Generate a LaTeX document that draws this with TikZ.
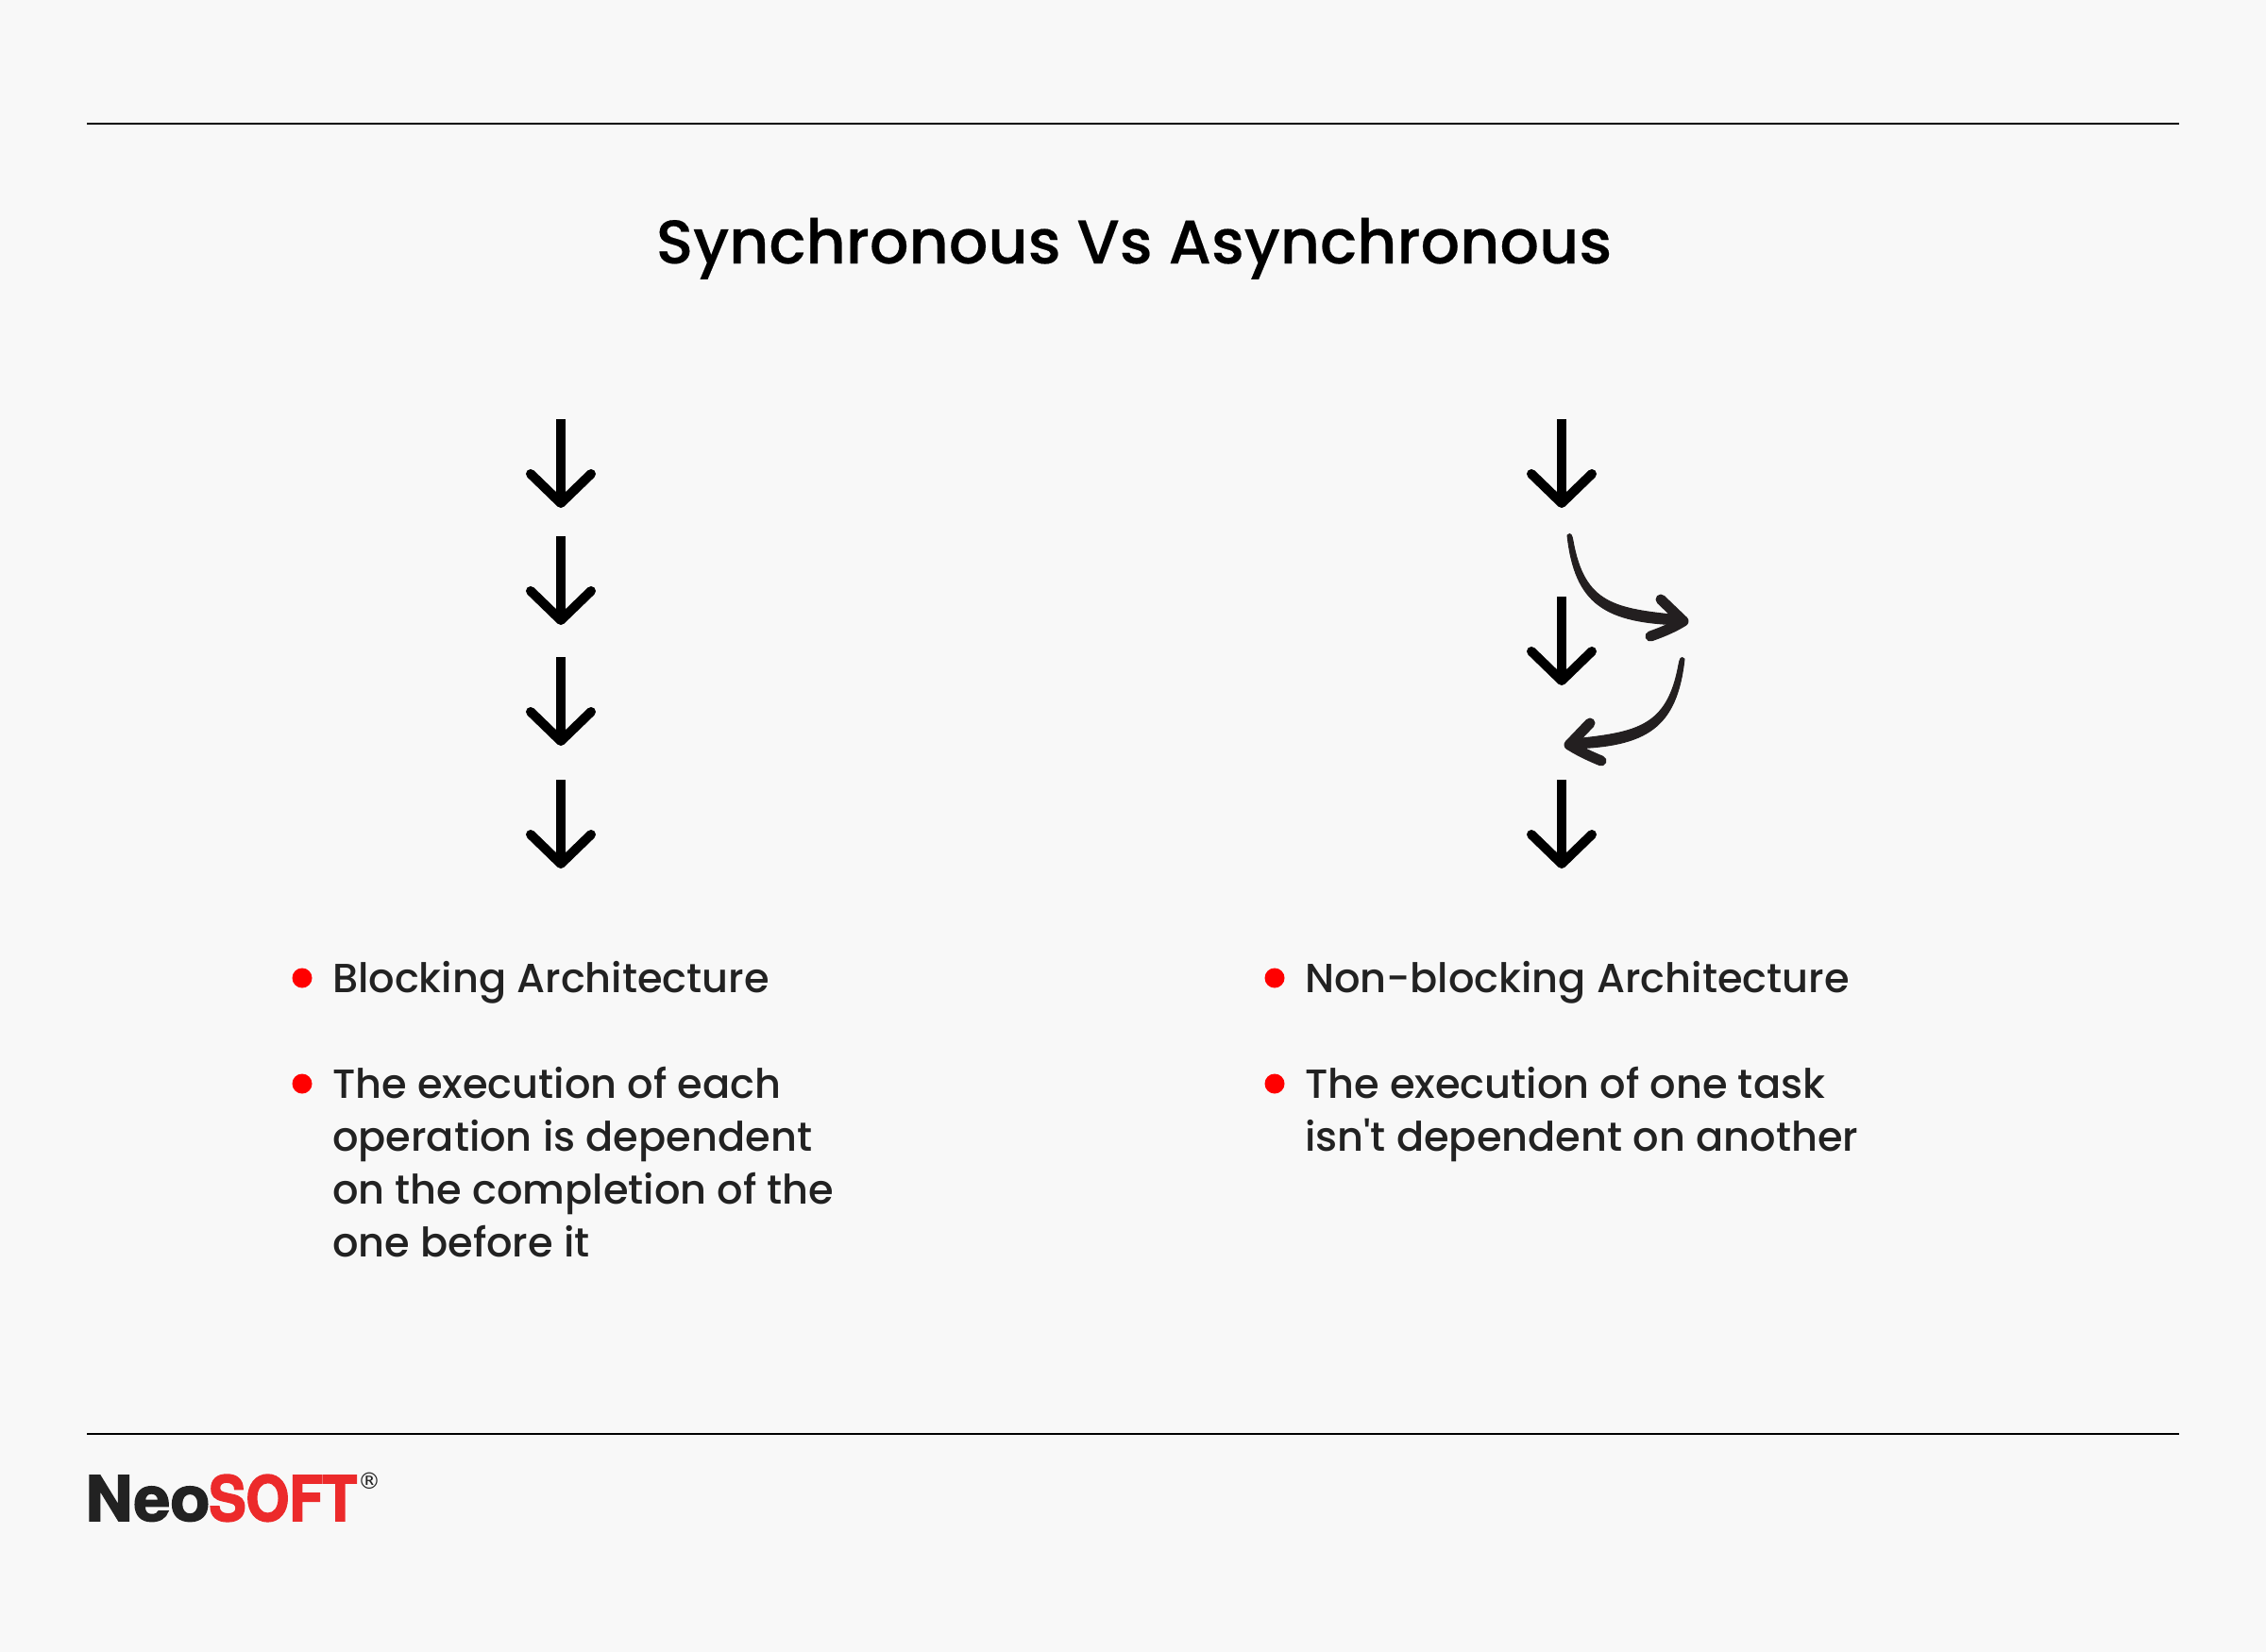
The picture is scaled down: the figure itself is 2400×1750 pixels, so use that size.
\documentclass[tikz,border=0pt]{standalone}
\usepackage{fontspec}
\setmainfont{Poppins Medium}
\newfontfamily\logofont{TeX Gyre Heros}
\newfontfamily\regfont{DejaVu Sans}
\definecolor{bgc}{HTML}{F8F8F8}
\definecolor{inkc}{HTML}{231F20}
\definecolor{txtc}{HTML}{222222}
\definecolor{logored}{HTML}{EC2A2B}
\definecolor{dotred}{HTML}{FF0000}
\tikzset{
  x=0.5pt,y=-0.5pt,
  rulelin/.style={draw=black,line width=1pt},
  shaft/.style={draw=black,line width=5pt,line cap=butt},
  headv/.style={draw=black,line width=5pt,line cap=round,line join=round},
  body/.style={anchor=base west,inner sep=0pt,outer sep=0pt,text=txtc,font=\fontsize{21.55}{28}\selectfont},
  dot/.style={circle,fill=dotred,inner sep=0pt,minimum size=10.5pt},
  curvehead/.style={draw=inkc,line width=5.5pt,line cap=round,line join=round},
  curvebody/.style={fill=inkc,draw=inkc,line width=0.5pt,line join=round},
  logotext/.style={anchor=base west,inner sep=0pt},
  downarr/.pic={
    \draw[shaft] (0,0) -- (0,85);
    \draw[headv] (-32,58) -- (0,89) -- (32,58);
  }
}
\begin{document}
\begin{tikzpicture}
\useasboundingbox (0,0) rectangle (2400,1750);
\fill[bgc] (0,0) rectangle (2400,1750);
\coordinate (r1a) at (92,131); \coordinate (r1b) at (2308,131);
\coordinate (r2a) at (92,1519); \coordinate (r2b) at (2308,1519);
\draw[rulelin] (r1a) -- (r1b);
\draw[rulelin] (r2a) -- (r2b);
\node[anchor=base,inner sep=0pt,font=\fontsize{32.6}{40}\selectfont\addfontfeatures{FakeBold=0.3},text=black] (title) at (1201,279) {Synchronous Vs Asynchronous};
\pic at (594,444) {downarr};
\pic at (594,568) {downarr};
\pic at (594,696) {downarr};
\pic at (594,826) {downarr};
\pic at (1654,444) {downarr};
\pic at (1654,632) {downarr};
\pic at (1654,826) {downarr};
% curved arrows
\fill[curvebody] (1660,567) .. controls (1664,563) and (1665,568) .. (1666,573)
  .. controls (1678,640) and (1710,645) .. (1780,652) -- (1782,662)
  .. controls (1700,660) and (1668,640) .. (1660,567) -- cycle;
\draw[curvehead] (1759,635) -- (1783,658) .. controls (1775,663) and (1765,668) .. (1748,674);
\fill[curvebody] (1784,698) .. controls (1780,694) and (1779,699) .. (1778,704)
  .. controls (1766,770) and (1734,776) .. (1666,783) -- (1664,793)
  .. controls (1744,791) and (1776,771) .. (1784,698) -- cycle;
\draw[curvehead] (1684,766) -- (1662,789) .. controls (1670,794) and (1679,799) .. (1696,806);
% left text
\node[dot] (d1) at (320,1036) {};
\node[dot] (d2) at (320,1148) {};
\node[body] (t1) at (352,1051) {Blocking Architecture};
\node[body] (t2) at (352,1163) {The execution of each};
\node[body] (t3) at (352,1219) {operation is dependent};
\node[body] (t4) at (352,1275) {on the completion of the};
\node[body] (t5) at (352,1331) {one before it};
% right text
\node[dot] (d3) at (1350,1036) {};
\node[dot] (d4) at (1350,1148) {};
\node[body] (t6) at (1382,1051) {Non-blocking Architecture};
\node[body] (t7) at (1382,1163) {The execution of one task};
\node[body] (t8) at (1382,1219) {isn\textquotesingle t dependent on another};
% logo
\node[logotext,font=\logofont\bfseries\fontsize{33}{33}\selectfont\addfontfeatures{FakeBold=2.5,FakeStretch=1.05},text=txtc] (logoa) at (90,1611) {Neo};
\node[logotext,font=\logofont\bfseries\fontsize{33}{33}\selectfont\addfontfeatures{FakeBold=2.5,FakeStretch=0.89},text=logored] (logob) at (221,1611) {SOFT};
\node[anchor=center,inner sep=0pt,font=\regfont\fontsize{12}{12}\selectfont,text=txtc] (reg) at (391,1569) {®};
\end{tikzpicture}
\end{document}
